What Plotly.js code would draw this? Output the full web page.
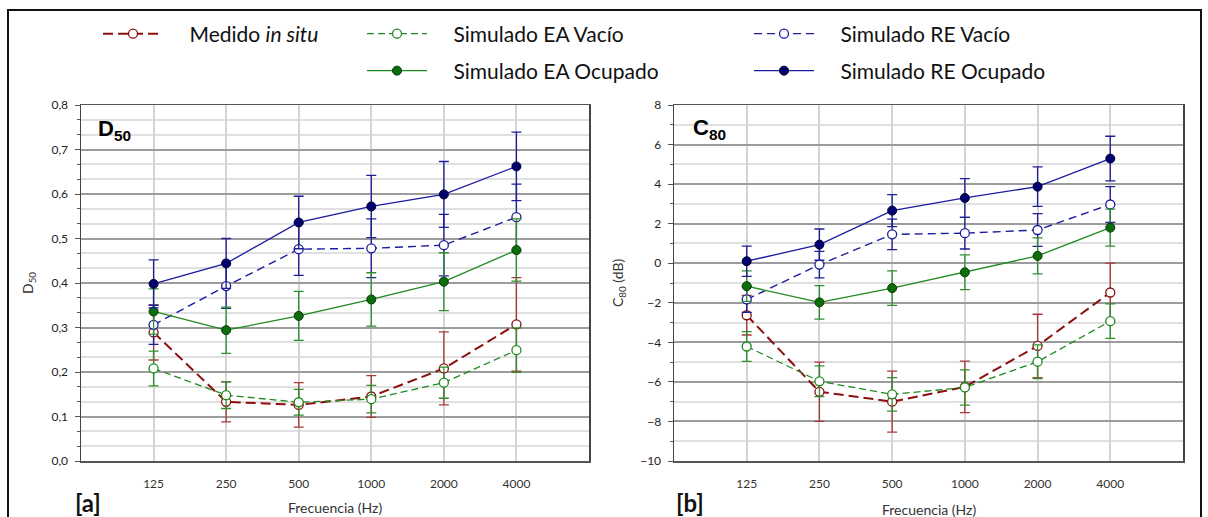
<!DOCTYPE html>
<html>
<head>
<meta charset="utf-8">
<script src="https://cdn.plot.ly/plotly-3.0.1.min.js"></script>
<style>html,body{margin:0;padding:0;background:#fff;}#chart{width:1208px;height:517px;}</style>
</head>
<body>
<div id="chart"></div>
<script>
// ---------- data ----------
const freqs = ['125', '250', '500', '1000', '2000', '4000'];

// D50 panel [a]
const d50Medido      = [0.289, 0.133, 0.126, 0.145, 0.208, 0.307];
const d50MedidoErr   = [0.062, 0.045, 0.050, 0.047, 0.082, 0.105];
const d50EAVacio     = [0.208, 0.148, 0.132, 0.139, 0.176, 0.249];
const d50EAVacioErr  = [0.039, 0.030, 0.029, 0.031, 0.035, 0.050];
const d50REVacio     = [0.306, 0.393, 0.476, 0.478, 0.485, 0.548];
const d50REVacioErr  = [0.044, 0.050, 0.059, 0.066, 0.069, 0.074];
const d50EAOcup      = [0.336, 0.294, 0.326, 0.363, 0.403, 0.474];
const d50EAOcupErr   = [0.051, 0.052, 0.055, 0.060, 0.065, 0.070];
const d50REOcup      = [0.398, 0.444, 0.536, 0.572, 0.599, 0.662];
const d50REOcupErr   = [0.054, 0.056, 0.059, 0.070, 0.074, 0.077];

// C80 panel [b]
const c80Medido      = [-2.63, -6.50, -7.00, -6.25, -4.18, -1.48];
const c80MedidoErr   = [1.00, 1.50, 1.54, 1.30, 1.60, 1.48];
const c80EAVacio     = [-4.21, -5.97, -6.63, -6.28, -4.98, -2.93];
const c80EAVacioErr  = [0.75, 0.78, 0.85, 0.89, 0.85, 0.87];
const c80REVacio     = [-1.83, -0.07, 1.46, 1.52, 1.68, 2.97];
const c80REVacioErr  = [0.66, 0.67, 0.77, 0.80, 0.83, 0.90];
const c80EAOcup      = [-1.16, -1.98, -1.26, -0.46, 0.37, 1.80];
const c80EAOcupErr   = [0.77, 0.85, 0.87, 0.88, 0.91, 0.94];
const c80REOcup      = [0.10, 0.94, 2.66, 3.30, 3.87, 5.29];
const c80REOcupErr   = [0.76, 0.79, 0.81, 0.98, 1.00, 1.13];

const seriesNames = ['Medido <i>in situ</i>', 'Simulado EA Vacío', 'Simulado RE Vacío',
                     'Simulado EA Ocupado', 'Simulado RE Ocupado'];

// ---------- styles ----------
const RED = '#8b0f0f', RED_ERR = '#a83a3a';
const GREEN = '#1f8a1f', GREEN_ERR = '#2f8f2f', GREEN_FILL = '#0a6e0a';
const BLUE = '#1c1ca0', BLUE_ERR = '#1e1e96', BLUE_FILL = '#00006e';

const styles = [
  {line: {color: RED, width: 2, dash: '10px,5px'}, marker: {symbol: 'circle', size: 9, color: '#fff', line: {color: RED, width: 1.3}}, err: RED_ERR},
  {line: {color: GREEN, width: 1.3, dash: '7px,4px'}, marker: {symbol: 'circle', size: 9, color: '#fff', line: {color: GREEN, width: 1.3}}, err: GREEN_ERR},
  {line: {color: BLUE, width: 1.4, dash: '8px,5px'}, marker: {symbol: 'circle', size: 9, color: '#fff', line: {color: BLUE, width: 1.3}}, err: BLUE_ERR},
  {line: {color: GREEN, width: 1.3}, marker: {symbol: 'circle', size: 9, color: GREEN_FILL, line: {color: '#063806', width: 1}}, err: GREEN_ERR},
  {line: {color: BLUE, width: 1.3}, marker: {symbol: 'circle', size: 9, color: BLUE_FILL, line: {color: '#000033', width: 1}}, err: BLUE_ERR}
];
const legendIds = ['legend', 'legend2', 'legend3', 'legend4', 'legend5'];

const d50Sets = [[d50Medido, d50MedidoErr], [d50EAVacio, d50EAVacioErr], [d50REVacio, d50REVacioErr],
                 [d50EAOcup, d50EAOcupErr], [d50REOcup, d50REOcupErr]];
const c80Sets = [[c80Medido, c80MedidoErr], [c80EAVacio, c80EAVacioErr], [c80REVacio, c80REVacioErr],
                 [c80EAOcup, c80EAOcupErr], [c80REOcup, c80REOcupErr]];

const GAP = '&nbsp;&nbsp;&nbsp;&nbsp;';
const traces = [];
function addPanel(sets, xa, ya, showLeg) {
  sets.forEach((s, i) => {
    const st = styles[i];
    traces.push({
      type: 'scatter', mode: 'lines+markers',
      x: freqs, y: s[0], xaxis: xa, yaxis: ya,
      name: GAP + seriesNames[i],
      legend: legendIds[i],
      showlegend: showLeg,
      line: st.line, marker: st.marker,
      error_y: {type: 'data', array: s[1], visible: true, color: st.err, thickness: 1.3, width: 5},
      hoverinfo: 'x+y'
    });
  });
}
addPanel(d50Sets, 'x', 'y', true);
addPanel(c80Sets, 'x2', 'y2', false);

const W = 1208, H = 517;
const px = v => v / W, py = v => 1 - v / H;

const FONT = 'Lato, "Open Sans", sans-serif';
const gridMajor = '#9c9c9c', gridMinor = '#e0e0e0';

// minor grid positions: subdivisions between major ticks, excluding the majors
function minorVals(lo, hi, major, parts) {
  const out = [];
  for (let k = Math.round(lo / major); k < Math.round(hi / major); k++) {
    for (let j = 1; j < parts; j++) out.push(+((k + j / parts) * major).toFixed(6));
  }
  return out;
}

function xAxis(d0, d1, anchor) {
  return {
    domain: [px(d0), px(d1)], anchor: anchor, type: 'category',
    range: [-1, 6], showgrid: true, gridcolor: '#d4d4d4', gridwidth: 2,
    showline: true, linecolor: '#555', linewidth: 1.5, mirror: true,
    ticks: '', ticklabelstandoff: 11,
    tickfont: {family: FONT, size: 12, color: '#333'}, zeroline: false, fixedrange: true
  };
}
function yAxis(range, dtick, parts, fmt, anchor) {
  return {
    domain: [py(461), py(105)], anchor: anchor, range: range,
    dtick: dtick, tick0: 0, tickformat: fmt,
    showgrid: true, gridcolor: gridMajor, gridwidth: 2,
    minor: {tickmode: 'array', tickvals: minorVals(range[0], range[1], dtick, parts),
            showgrid: true, gridcolor: gridMinor, gridwidth: 2, ticks: 'outside', ticklen: 3, tickcolor: '#555'},
    ticks: 'outside', ticklen: 5, tickcolor: '#555', ticklabelstandoff: 4,
    showline: true, linecolor: '#444', linewidth: 1.5, mirror: true,
    tickfont: {family: FONT, size: 12, color: '#222'}, zeroline: false, fixedrange: true
  };
}

const legendFont = {family: FONT, size: 21, color: '#111'};
function leg(x, y) {
  return {x: px(x), y: py(y), xanchor: 'left', yanchor: 'middle', orientation: 'v',
          bgcolor: 'rgba(0,0,0,0)', borderwidth: 0, font: legendFont, itemwidth: 60, itemclick: false, itemdoubleclick: false};
}

function ann(x, y, text, font, extra) {
  return Object.assign({xref: 'paper', yref: 'paper', x: px(x), y: py(y), xanchor: 'center', yanchor: 'middle',
                        text: text, showarrow: false, font: font}, extra || {});
}
const axisFont = {family: FONT, size: 14, color: '#333'};
const boldLabel = {family: 'Liberation Sans, Arial, sans-serif', size: 22, color: '#000'};
const panelFont = {family: FONT, size: 24, color: '#111'};

const layout = {
  width: W, height: H,
  margin: {l: 0, r: 0, t: 0, b: 0},
  paper_bgcolor: '#fff', plot_bgcolor: '#fff',
  separators: ',.',
  showlegend: true,
  font: {family: FONT},
  xaxis: xAxis(81, 589, 'y'),
  yaxis: yAxis([0, 0.8], 0.1, 3, '.1f', 'x'),
  xaxis2: xAxis(674, 1183, 'y2'),
  yaxis2: yAxis([-10, 8], 2, 2, 'd', 'x2'),
  legend: leg(98, 34),
  legend2: leg(362, 34),
  legend3: leg(749, 34),
  legend4: leg(362, 71),
  legend5: leg(749, 71),
  shapes: [
    {type: 'rect', xref: 'paper', yref: 'paper', x0: px(8), x1: px(1201), y0: py(530), y1: py(10),
     line: {color: '#111', width: 2}, fillcolor: 'rgba(0,0,0,0)', layer: 'below'}
  ],
  annotations: [
    ann(114, 130, '<b>D<sub>50</sub></b>', boldLabel),
    ann(710, 129, '<b>C<sub>80</sub></b>', boldLabel),
    ann(28, 283, 'D<sub>50</sub>', axisFont, {textangle: -90}),
    ann(618, 283, 'C<sub>80</sub> (dB)', axisFont, {textangle: -90}),
    ann(335, 508, 'Frecuencia (Hz)', axisFont),
    ann(929, 509, 'Frecuencia (Hz)', axisFont),
    ann(88, 502, '<b>[a]</b>', panelFont),
    ann(690, 502, '<b>[b]</b>', panelFont)
  ]
};

Plotly.newPlot('chart', traces, layout, {displayModeBar: false, staticPlot: true});
</script>
</body>
</html>
